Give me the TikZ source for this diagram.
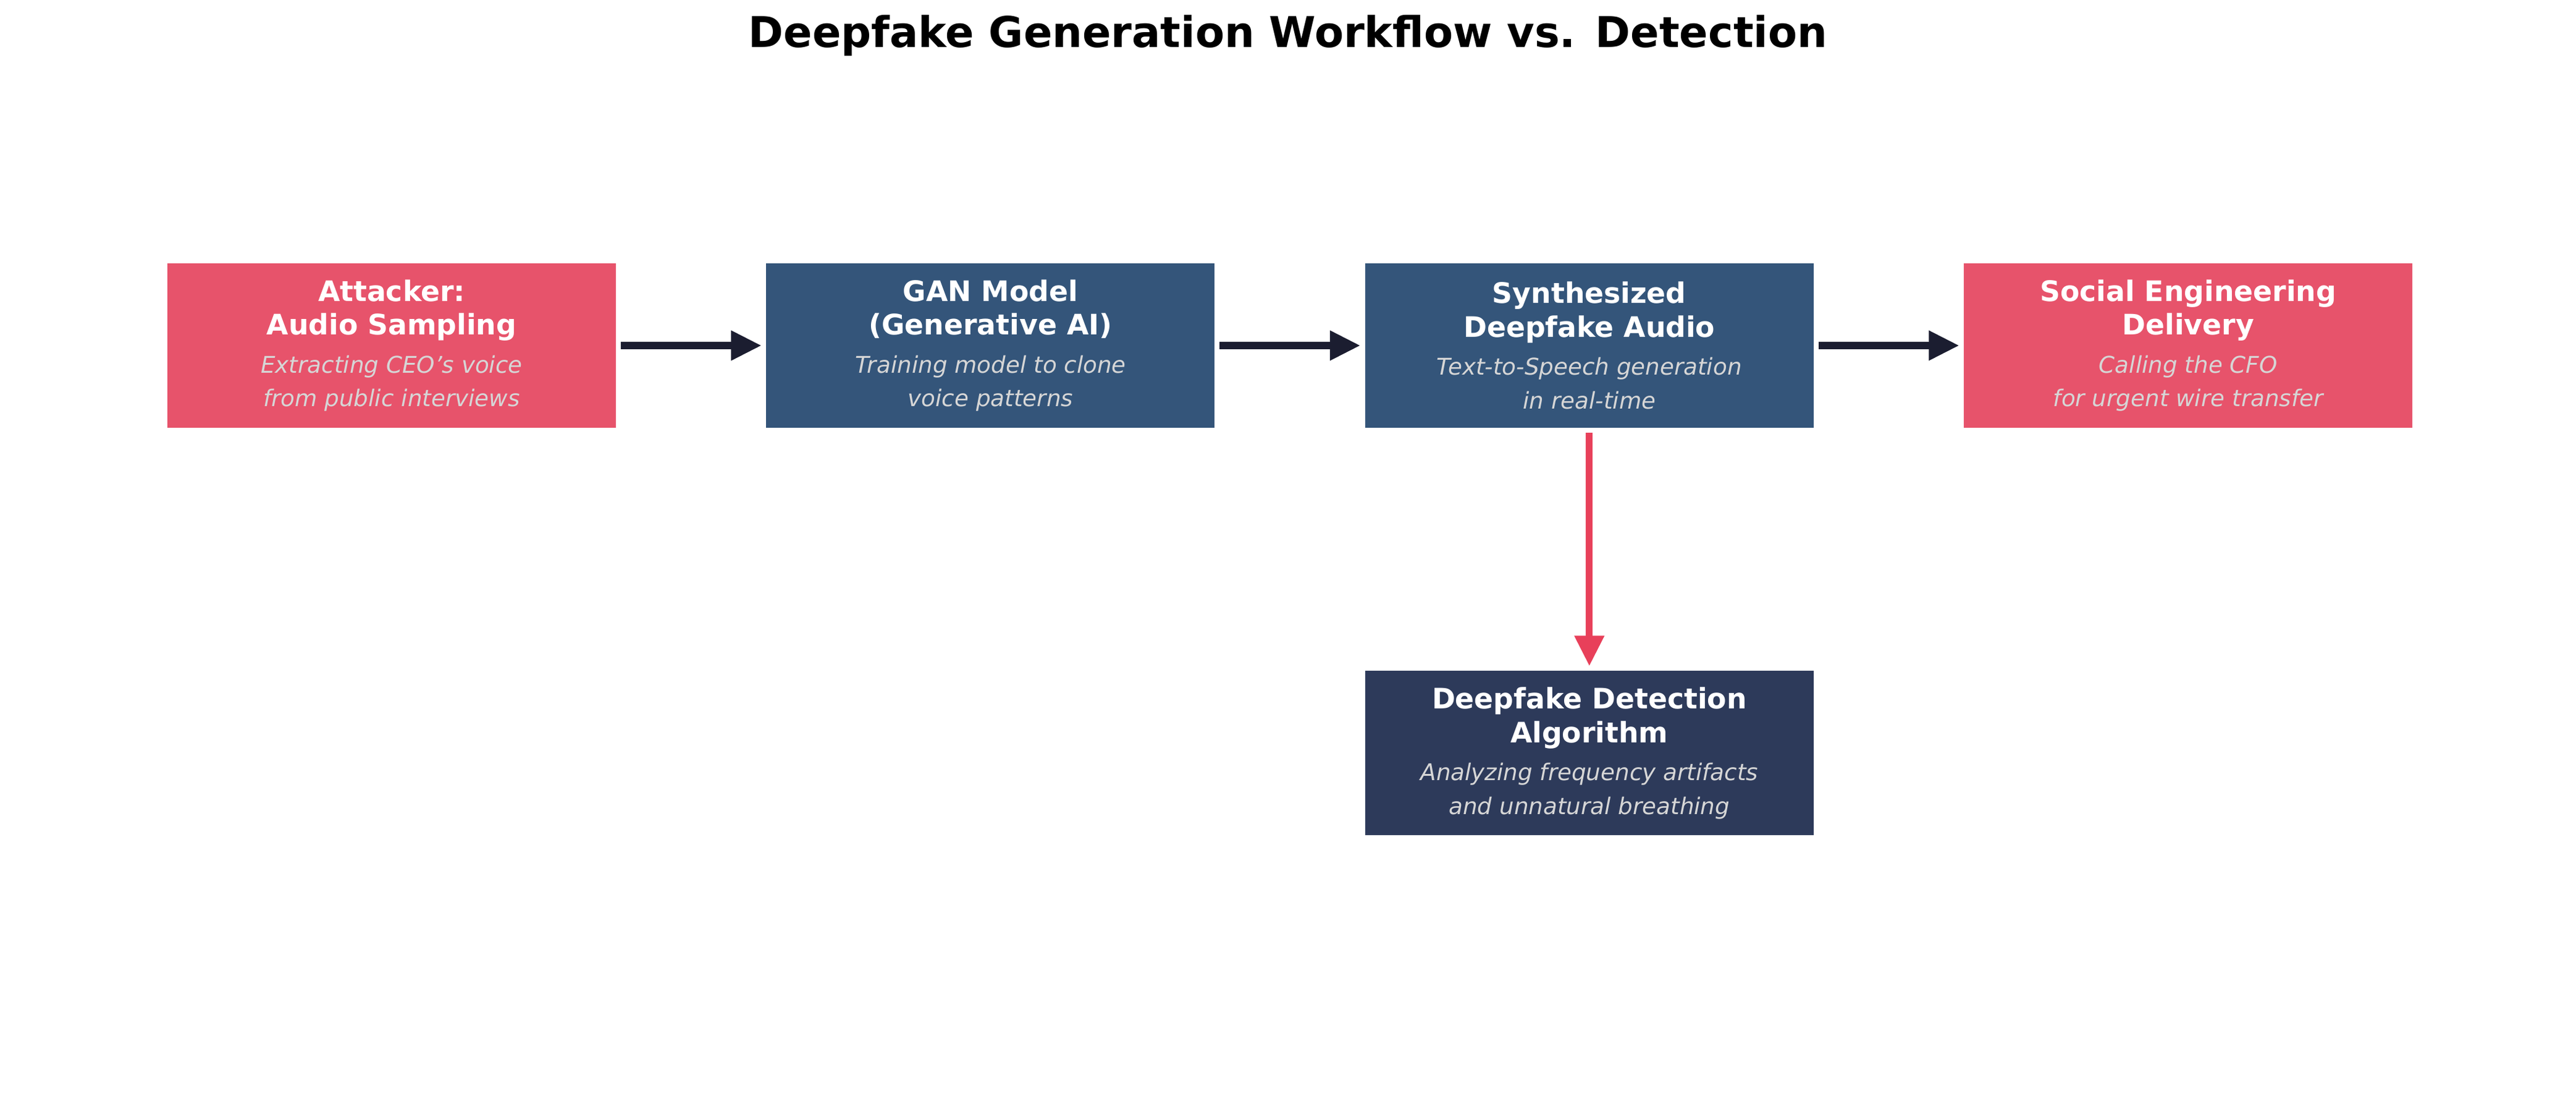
\documentclass[tikz,border=0pt]{standalone}
\usepackage{fontspec}
\setmainfont{DejaVu Sans}
\usetikzlibrary{positioning,arrows.meta}
\definecolor{attackred}{HTML}{E7536B}
\definecolor{ganblue}{HTML}{34557A}
\definecolor{detectnavy}{HTML}{2D3A5A}
\definecolor{flowdark}{HTML}{1B1D30}
\definecolor{alertred}{HTML}{E8405A}
\definecolor{subgray}{HTML}{D6D6D6}
\tikzset{
  stage/.style={minimum width=7.26cm, minimum height=2.66cm, align=center, text=white, inner sep=0pt,
    font=\fontsize{13pt}{15.5pt}\selectfont\bfseries},
  flow/.style={draw=flowdark, line width=3.2pt, -{Triangle[length=14pt,width=13pt]}, shorten >=2pt, shorten <=2pt},
}
\newcommand{\subline}{\fontsize{10.6pt}{12.5pt}\selectfont\mdseries\itshape\color{subgray}}
\begin{document}
\begin{tikzpicture}
\useasboundingbox (0,0) rectangle (41.7,17.73);

\node at (20.85,17.15) {\fontsize{19.5pt}{22pt}\selectfont\bfseries Deepfake Generation Workflow vs. Detection};

\node [stage, fill=attackred] (sampling) at (6.34,12.14) {Attacker:\\Audio Sampling\\[2pt]\subline Extracting CEO's voice\\\subline from public interviews};
\node [stage, fill=ganblue, right=2.42cm of sampling] (gan) {GAN Model\\(Generative AI)\\[2pt]\subline Training model to clone\\\subline voice patterns};
\node [stage, fill=ganblue, right=2.42cm of gan] (synth) {Synthesized\\Deepfake Audio\\[2pt]\subline Text-to-Speech generation\\\subline in real-time};
\node [stage, fill=attackred, right=2.42cm of synth] (delivery) {Social Engineering\\Delivery\\[2pt]\subline Calling the CFO\\\subline for urgent wire transfer};
\node [stage, fill=detectnavy, below=3.92cm of synth] (detect) {Deepfake Detection\\Algorithm\\[2pt]\subline Analyzing frequency artifacts\\\subline and unnatural breathing};

\draw [flow] (sampling) -- (gan);
\draw [flow] (gan) -- (synth);
\draw [flow] (synth) -- (delivery);
\draw [flow, draw=alertred, fill=alertred] (synth) -- (detect);

\end{tikzpicture}
\end{document}
